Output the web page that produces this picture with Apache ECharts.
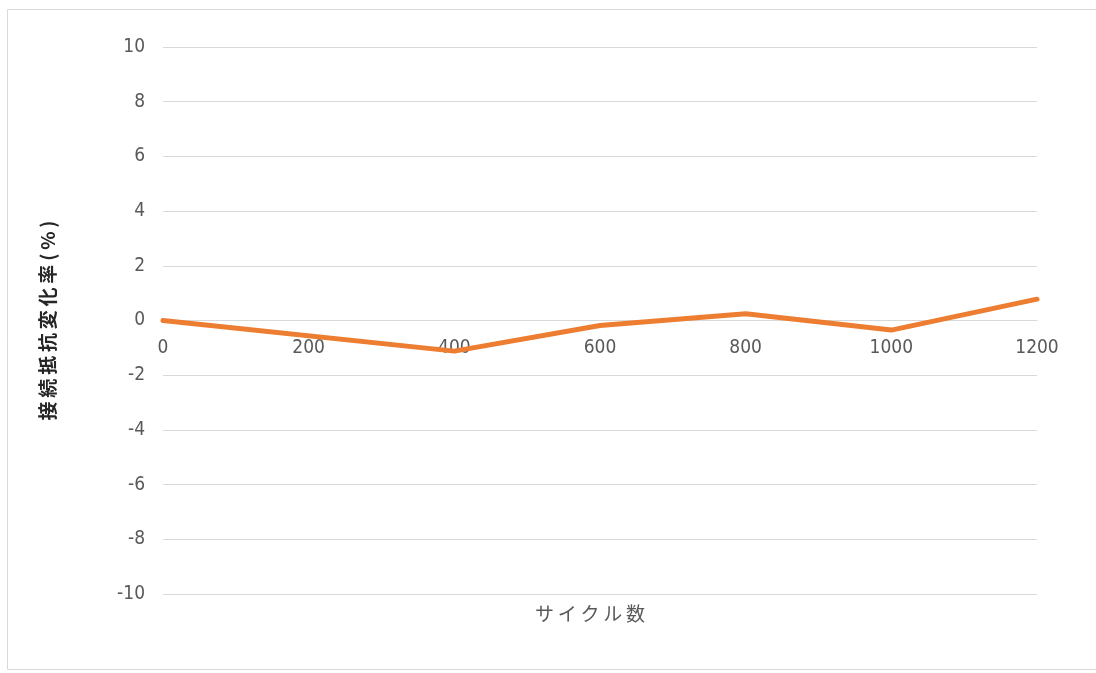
<!DOCTYPE html>
<html>
<head>
<meta charset="utf-8">
<script src="https://cdn.jsdelivr.net/npm/echarts@6/dist/echarts.min.js"></script>
<style>
  html, body { margin: 0; padding: 0; background: #ffffff; }
  #chart { width: 1096px; height: 673px; }
</style>
</head>
<body>
<div id="chart"></div>
<script>
// Cycle counts and the measured change in contact resistance (%)
const cycles = [0, 400, 600, 800, 1000, 1200];
const resistanceChange = [0, -1.12, -0.18, 0.25, -0.35, 0.78];

const xTicks = { min: 0, max: 1200, interval: 200 };
const yTicks = { min: -10, max: 10, interval: 2 };

const xAxisName = 'サイクル数';
const yAxisName = '接続抵抗変化率(%)';

// spread the characters of an axis title a little
const spaced = (s) => Array.from(s).join('\u2009');

const cjkFont = '"Noto Sans CJK JP", "Noto Sans", sans-serif';
const tickFont = '"Liberation Sans Narrow", "DejaVu Sans Condensed", "Noto Sans", sans-serif';
const gridColor = '#d9d9d9';
const labelColor = '#595959';

const chart = echarts.init(document.getElementById('chart'), null, { renderer: 'canvas' });

chart.setOption({
  backgroundColor: '#ffffff',
  animation: false,
  title: {
    text: spaced(xAxisName),
    left: 585,
    top: 599,
    textAlign: 'center',
    textStyle: { fontFamily: cjkFont, fontSize: 19, fontWeight: 'normal', color: labelColor }
  },
  graphic: [{
    type: 'rect',
    shape: { x: 7.5, y: 9.5, width: 1100, height: 660 },
    style: { fill: 'none', stroke: gridColor, lineWidth: 1 },
    silent: true
  }],
  grid: { left: 163, right: 59, top: 47, bottom: 79, containLabel: false },
  xAxis: {
    type: 'value',
    min: xTicks.min,
    max: xTicks.max,
    interval: xTicks.interval,
    axisLine: { onZero: true, lineStyle: { color: gridColor, width: 1 } },
    axisTick: { show: false },
    splitLine: { show: false },
    // tick labels sit just under the zero line
    axisLabel: {
      fontFamily: tickFont, fontSize: 19, color: labelColor, margin: -255,
      formatter: (v) => String(v)
    }
  },
  yAxis: {
    type: 'value',
    min: yTicks.min,
    max: yTicks.max,
    interval: yTicks.interval,
    name: spaced(yAxisName),
    nameLocation: 'middle',
    nameGap: 106,
    nameRotate: 90,
    nameTextStyle: { fontFamily: cjkFont, fontSize: 19, fontWeight: 'bold', color: '#262626' },
    axisLine: { show: false },
    axisTick: { show: false },
    splitLine: { lineStyle: { color: gridColor, width: 1 } },
    axisLabel: { fontFamily: tickFont, fontSize: 19, color: labelColor, margin: 18 }
  },
  series: [{
    type: 'line',
    data: cycles.map((c, i) => [c, resistanceChange[i]]),
    showSymbol: false,
    symbol: 'none',
    lineStyle: { color: '#ed7d31', width: 5, join: 'round', cap: 'round' },
    itemStyle: { color: '#ed7d31' }
  }]
});
</script>
</body>
</html>
